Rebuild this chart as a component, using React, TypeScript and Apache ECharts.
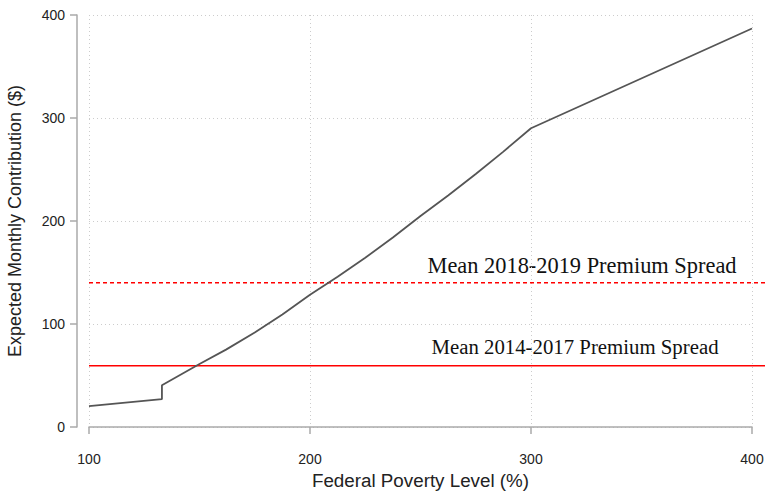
import React, { useEffect, useRef } from "react";
import * as echarts from "echarts";

const fplValues = [100, 133, 133, 150, 162, 175, 187.5, 200, 212.5, 225, 237.5, 250, 262.5, 275, 287.5, 300, 400];
const contribValues = [20.3, 27.0, 40.6, 61.2, 75.1, 91.8, 109.3, 128.3, 145.8, 164.3, 184.0, 204.9, 224.8, 245.7, 267.4, 290.1, 386.9];
const xTicks = [100, 200, 300, 400];
const yTicks = [0, 100, 200, 300, 400];
const spreadLevels = [
  { label: "Mean 2018-2019 Premium Spread", value: 140, dashed: true },
  { label: "Mean 2014-2017 Premium Spread", value: 59.5, dashed: false },
];

export default function App() {
  const ref = useRef<HTMLDivElement>(null);
  useEffect(() => {
    if (!ref.current) return;
    const chart = echarts.init(ref.current, undefined, { renderer: "svg" });
    const gridTop = 15;
    const gridBottom = 67;
    const H = 494;
    const plotH = H - gridTop - gridBottom;
    const yPix = (v: number) => gridTop + plotH * (1 - v / 400);
    chart.setOption({
      animation: false,
      backgroundColor: "#fff",
      grid: [
        { left: 89, right: 13, top: gridTop, bottom: gridBottom, containLabel: false, outerBoundsMode: "none" },
        { left: 89, right: 0, top: gridTop, bottom: gridBottom, containLabel: false, outerBoundsMode: "none" },
      ],
      xAxis: [
        {
          type: "value",
          gridIndex: 0,
          min: xTicks[0],
          max: xTicks[xTicks.length - 1],
          interval: 100,
          offset: 12,
          name: "Federal Poverty Level (%)",
          nameLocation: "middle",
          nameGap: 30,
          nameTextStyle: { fontFamily: "Liberation Sans", fontSize: 18.8, color: "#222" },
          axisLine: { show: true, lineStyle: { color: "#aaa", width: 1.5 } },
          axisTick: { show: true, length: 7, lineStyle: { color: "#aaa", width: 1.5 } },
          axisLabel: { fontFamily: "Liberation Sans", fontSize: 14, color: "#222", margin: 13 },
          splitLine: { show: true, lineStyle: { type: [1, 3], color: "#ccc", width: 1 } },
        },
        { type: "value", gridIndex: 1, min: 0, max: 1, show: false },
      ],
      yAxis: [
        {
          type: "value",
          gridIndex: 0,
          min: yTicks[0],
          max: yTicks[yTicks.length - 1],
          interval: 100,
          offset: 12,
          name: "Expected Monthly Contribution ($)",
          nameLocation: "middle",
          nameGap: 53,
          nameTextStyle: { fontFamily: "Liberation Sans", fontSize: 18, color: "#222" },
          axisLine: { show: true, lineStyle: { color: "#aaa", width: 1.5 } },
          axisTick: { show: true, length: 7, lineStyle: { color: "#aaa", width: 1.5 } },
          axisLabel: { fontFamily: "Liberation Sans", fontSize: 14, color: "#222", margin: 12 },
          splitLine: { show: true, lineStyle: { type: [1, 3], color: "#ccc", width: 1 } },
        },
        { type: "value", gridIndex: 1, min: 0, max: 400, show: false },
      ],
      series: [
        ...spreadLevels.map((s) => ({
          type: "line",
          xAxisIndex: 1,
          yAxisIndex: 1,
          data: [
            [0, s.value],
            [1, s.value],
          ],
          symbol: "none",
          lineStyle: { color: "#f00", width: 1.5, type: s.dashed ? [4, 3] : "solid" },
          z: 3,
        })),
        {
          type: "line",
          xAxisIndex: 0,
          yAxisIndex: 0,
          data: fplValues.map((x, i) => [x, contribValues[i]]),
          symbol: "none",
          smooth: false,
          lineStyle: { color: "#555", width: 1.8 },
          z: 4,
        },
      ],
      graphic: [
        {
          type: "text",
          x: 582,
          y: yPix(spreadLevels[0].value) - 17,
          style: {
            text: spreadLevels[0].label,
            font: "22.4px 'Liberation Serif'",
            fill: "#111",
            align: "center",
            verticalAlign: "middle",
          },
        },
        {
          type: "text",
          x: 575,
          y: yPix(spreadLevels[1].value) - 19,
          style: {
            text: spreadLevels[1].label,
            font: "20.8px 'Liberation Serif'",
            fill: "#111",
            align: "center",
            verticalAlign: "middle",
          },
        },
      ],
    });
    return () => chart.dispose();
  }, []);
  return <div ref={ref} style={{ width: 765, height: 494, position: "absolute", left: 0, top: 0 }} />;
}
